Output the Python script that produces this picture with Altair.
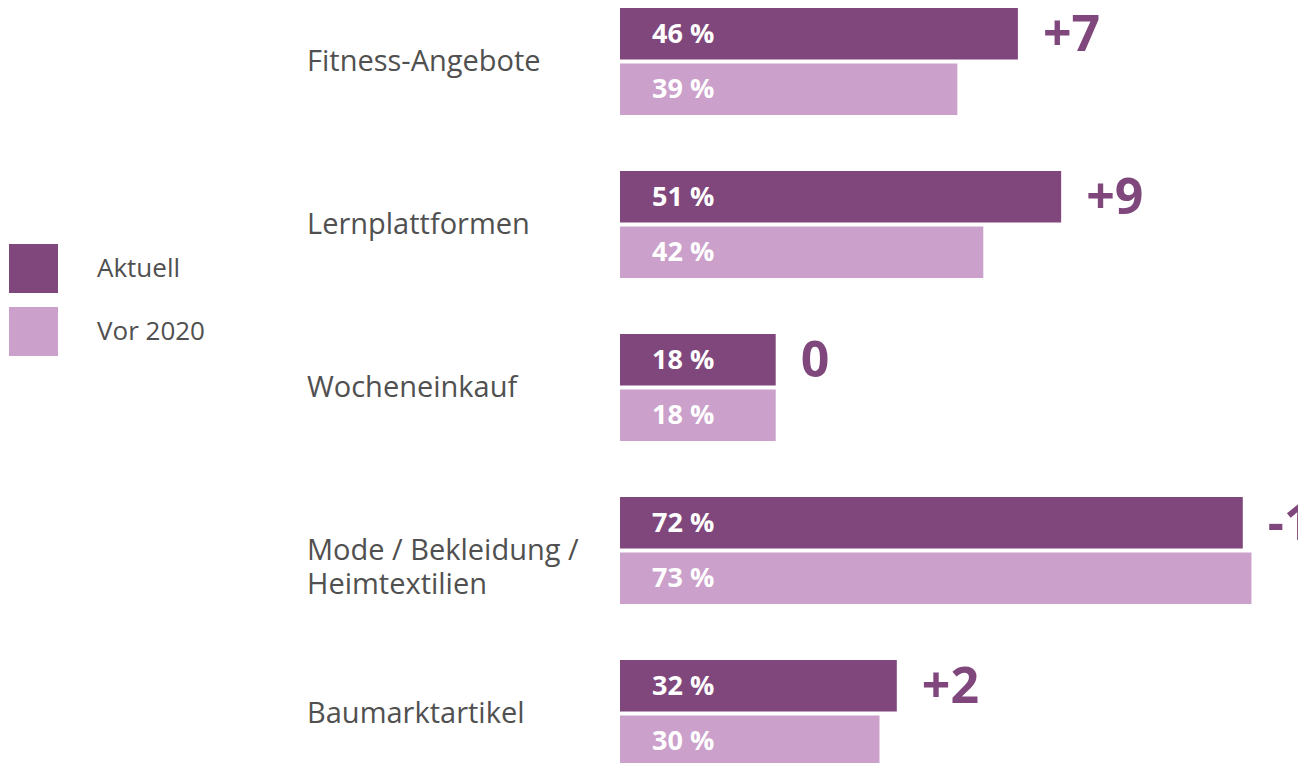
import altair as alt
import pandas as pd

categories = ["Fitness-Angebote", "Lernplattformen", "Wocheneinkauf",
              "Mode / Bekleidung /\nHeimtextilien", "Baumarktartikel"]
aktuell = [46, 51, 18, 72, 32]
vor2020 = [39, 42, 18, 73, 30]
series = ["Aktuell", "Vor 2020"]
colors = ["#7f477c", "#cba0cb"]

rows = []
for c, a, v in zip(categories, aktuell, vor2020):
    d = a - v
    dtxt = f"+{d}" if d > 0 else str(d)
    rows.append({"cat": c, "series": "Aktuell", "value": a, "label": f"{a} %", "diff": dtxt, "zero": 0})
    rows.append({"cat": c, "series": "Vor 2020", "value": v, "label": f"{v} %", "diff": "", "zero": 0})
df = pd.DataFrame(rows)

FONT = "Open Sans"

xscale = alt.Scale(domain=[0, 100], range=[612, 1477])
yscale = alt.Scale(domain=categories, range=[0, 759], paddingInner=56 / 163, paddingOuter=0)
yoff = alt.Scale(domain=series, paddingInner=0.072, paddingOuter=0)

Y = alt.Y("cat:N", scale=yscale, axis=None, sort=categories)
YO = alt.YOffset("series:N", scale=yoff, sort=series)

base = alt.Chart(df)

bars = base.mark_bar().encode(
    x=alt.X("value:Q", scale=xscale, axis=None),
    y=Y,
    yOffset=YO,
    color=alt.Color("series:N", scale=alt.Scale(domain=series, range=colors),
                    legend=alt.Legend(title=None, orient="none", legendX=1, legendY=236,
                                      symbolType="square", symbolSize=2401,
                                      symbolStrokeWidth=0, symbolOpacity=1,
                                      labelFont=FONT, labelFontSize=26,
                                      labelColor="#505050", labelOffset=39,
                                      rowPadding=14, padding=0)),
)

bar_labels = base.mark_text(align="left", baseline="middle", dx=32, dy=1, font=FONT,
                            fontSize=27, fontWeight="bold", color="white").encode(
    x=alt.X("zero:Q", scale=xscale, axis=None),
    y=Y,
    yOffset=YO,
    text="label:N",
)

diff_labels = base.transform_filter(alt.datum.series == "Aktuell").mark_text(
    align="left", baseline="middle", dx=25, dy=2, font=FONT, fontSize=50,
    fontWeight="bold", color="#7f477c").encode(
    x=alt.X("value:Q", scale=xscale, axis=None),
    y=Y,
    yOffset=YO,
    text="diff:N",
)

cat_labels = base.transform_filter(alt.datum.series == "Aktuell").mark_text(
    align="left", baseline="middle", dy=28, font=FONT, fontSize=29, color="#505050",
    lineBreak="\n", lineHeight=34).encode(
    x=alt.value(299),
    y=Y,
    yOffset=YO,
    text="cat:N",
)

chart = alt.layer(bars, bar_labels, diff_labels, cat_labels).properties(
    width=1290, height=755,
    autosize=alt.AutoSizeParams(type="none"),
    padding={"left": 0, "top": 0, "right": 0, "bottom": 0},
).configure_view(stroke=None)

chart.save("out.html", embed_options={"renderer": "svg", "actions": False})
